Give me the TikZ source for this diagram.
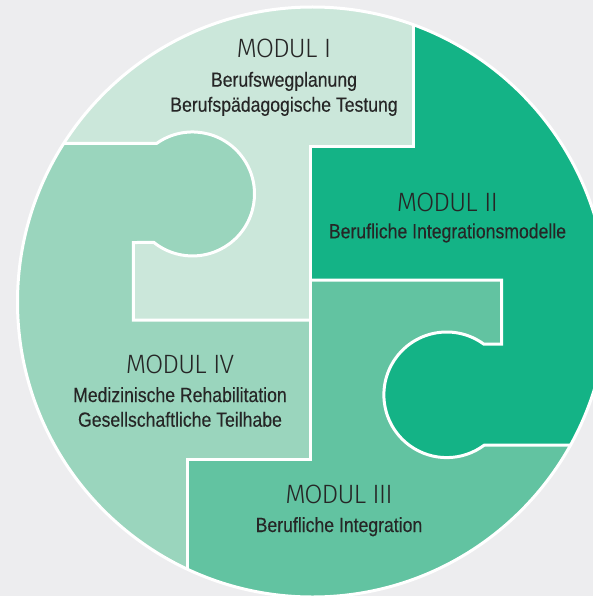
\documentclass[tikz,border=0pt]{standalone}
\usepackage{fontspec}
\setmainfont{Liberation Sans}
\newfontfamily\subfont{Liberation Sans}[FakeStretch=0.86,FakeBold=0.25]
\newfontfamily\titlefont{Fira Sans Light}[LetterSpace=-4]
\definecolor{bg}{HTML}{EDEDEF}
\definecolor{mone}{HTML}{CBE7DA}
\definecolor{mfour}{HTML}{9AD5BD}
\definecolor{mthree}{HTML}{62C3A1}
\definecolor{mtwo}{HTML}{14B386}
\definecolor{txt}{HTML}{262626}
\begin{document}
\begin{tikzpicture}[x=1pt,y=-1pt,
  wline/.style={draw=white,line width=3pt,line join=miter},
  ttl/.style={anchor=base,text=txt,inner sep=0pt,font=\titlefont\fontsize{26.5}{30}\selectfont},
  sub/.style={anchor=base,text=txt,inner sep=0pt,font=\subfont\fontsize{20.5}{24}\selectfont}]
\useasboundingbox (0,0) rectangle (593,596);
\fill[bg] (0,0) rectangle (593,596);
\begin{scope}
\clip (312.5,302) circle[radius=295];
\fill[mone] (0,0) rectangle (600,600);
% Modul IV
\fill[mfour] (0,143.5) -- (156.5,143.5) arc[start angle=234.5,end angle=488.5,radius=62]
  -- (133.3,242.5) -- (133.3,320) -- (310.5,320) -- (310.5,459) -- (187,459) -- (187,600) -- (0,600) -- cycle;
% Modul II
\fill[mtwo] (413,0) -- (413,146.5) -- (310.5,146.5) -- (310.5,280) -- (501.5,280) -- (501.5,344) -- (483.6,344)
  arc[start angle=306,end angle=53.1,radius=62.8] -- (600,445) -- (600,0) -- cycle;
% Modul III
\fill[mthree] (310.5,280) -- (501.5,280) -- (501.5,344) -- (483.6,344)
  arc[start angle=306,end angle=53.1,radius=62.8] -- (600,445) -- (600,600) -- (187,600) -- (187,459) -- (310.5,459) -- cycle;
% boundaries
\draw[wline] (0,143.5) -- (156.5,143.5) arc[start angle=234.5,end angle=488.5,radius=62]
  -- (133.3,242.5) -- (133.3,320) -- (310.5,320);
\draw[wline] (413,0) -- (413,146.5) -- (310.5,146.5) -- (310.5,459) -- (187,459) -- (187,600);
\draw[wline] (310.5,280) -- (501.5,280) -- (501.5,344) -- (483.6,344)
  arc[start angle=306,end angle=53.1,radius=62.8] -- (600,445);
\end{scope}
\draw[wline] (312.5,302) circle[radius=295];
% texts
\node[ttl] (t1) at (284,57.7) {MODUL I};
\node[sub] (s1a) at (284,86.7) {Berufswegplanung};
\node[sub] (s1b) at (284,111.7) {Berufspädagogische Testung};
\node[ttl] (t2) at (447.5,211.7) {MODUL II};
\node[sub] (s2a) at (447.5,238.3) {Berufliche Integrationsmodelle};
\node[ttl] (t4) at (180,373) {MODUL IV};
\node[sub] (s4a) at (180,402) {Medizinische Rehabilitation};
\node[sub] (s4b) at (180,426.7) {Gesellschaftliche Teilhabe};
\node[ttl] (t3) at (339,503.3) {MODUL III};
\node[sub] (s3a) at (339,532) {Berufliche Integration};
\end{tikzpicture}
\end{document}
